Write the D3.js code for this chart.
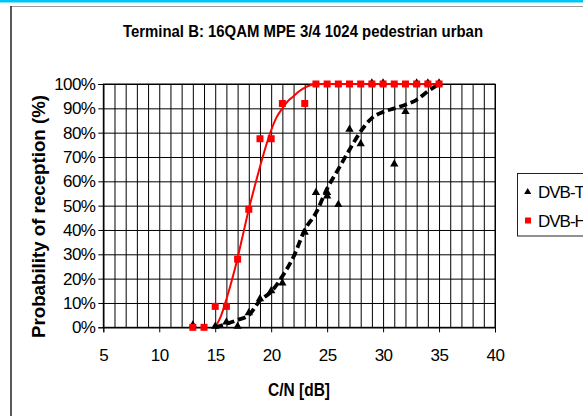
<!DOCTYPE html>
<html>
<head>
<meta charset="utf-8">
<script src="https://cdn.jsdelivr.net/npm/d3@7"></script>
<style>
  html, body { margin: 0; padding: 0; background: #fff; }
  svg { display: block; font-family: "Liberation Sans", Arial, sans-serif; }
</style>
</head>
<body>
<svg id="chart" width="583" height="416"></svg>
<script>
// ---- data ----
const title = "Terminal B: 16QAM MPE 3/4 1024 pedestrian urban";
const xTicks = [5, 10, 15, 20, 25, 30, 35, 40];
const yTicks = [0, 10, 20, 30, 40, 50, 60, 70, 80, 90, 100];
const seriesNames = ["DVB-T", "DVB-H"];

// DVB-T measured points (C/N dB, % reception)
const dvbtX = [13, 15, 16, 17, 18, 19, 20, 21, 23, 24, 25, 25, 26, 27, 28, 29, 30, 31, 32, 33, 34, 35];
const dvbtY = [0.5, 0, 1.7, 0, 5.5, 11.3, 14.6, 17.8, 38.6, 55, 55, 53.5, 50, 81, 75, 100, 100, 66.7, 88.2, 100, 100, 100];

// DVB-H measured points
const dvbhX = [13, 14, 15, 16, 17, 18, 19, 20, 21, 23, 24, 25, 26, 27, 28, 29, 30, 31, 32, 33, 34, 35];
const dvbhY = [0, 0, 8.6, 8.6, 28, 48.5, 77.5, 77.5, 92, 92, 100, 100, 100, 100, 100, 100, 100, 100, 100, 100, 100, 100];

// DVB-T trend (dashed)
const dvbtFitX = [15, 16, 17, 18, 19, 20, 21, 22, 23, 24, 25, 26, 27, 28, 29, 30, 31, 32, 33, 34, 35];
const dvbtFitY = [0, 1.4, 3, 5, 11, 14.6, 21, 29, 40, 47, 57, 65, 73, 80.5, 86, 88.5, 90, 91.5, 93.5, 97, 100];

// DVB-H trend (solid red)
const dvbhFitX = [15, 15.5, 16, 16.5, 17, 17.5, 18, 18.5, 19, 19.5, 20, 20.5, 21, 21.5, 22, 22.5, 23, 23.5, 24, 35];
const dvbhFitY = [0, 4.5, 11.5, 19.5, 28.5, 38.5, 48.5, 57.5, 66, 74, 81, 86.5, 90, 93, 95, 97, 98.5, 99.5, 100, 100];

// ---- drawing ----
const svg = d3.select("#chart");
const W = 583, H = 416;

// top cyan band + frame
svg.append("rect").attr("x", 0).attr("y", 0).attr("width", W).attr("height", 2.5).attr("fill", "#00c4f4");
svg.append("line").attr("x1", 10.5).attr("x2", W).attr("y1", 6.5).attr("y2", 6.5).attr("stroke", "#9a9a9a").attr("stroke-width", 1);
svg.append("line").attr("x1", 11).attr("x2", 11).attr("y1", 6).attr("y2", H).attr("stroke", "#222").attr("stroke-width", 1.5);

const x = d3.scaleLinear().domain([5, 40]).range([103.3, 495]);
const y = d3.scaleLinear().domain([0, 100]).range([327.3, 84]);

// grid
const gridV = svg.append("g").attr("transform", `translate(0,${y(0)})`)
  .call(d3.axisBottom(x).tickValues(d3.range(5, 41, 1)).tickSize(-(y(0) - y(100))).tickFormat(""));
gridV.select(".domain").remove();
gridV.selectAll("line").attr("stroke", "#000").attr("stroke-width", 1);

const gridH = svg.append("g").attr("transform", `translate(${x(5)},0)`)
  .call(d3.axisLeft(y).tickValues(yTicks).tickSize(-(x(40) - x(5))).tickFormat(""));
gridH.select(".domain").remove();
gridH.selectAll("line").attr("stroke", "#000").attr("stroke-width", 1);

// plot border
svg.append("rect").attr("x", x(5)).attr("y", y(100)).attr("width", x(40) - x(5)).attr("height", y(0) - y(100))
  .attr("fill", "none").attr("stroke", "#000").attr("stroke-width", 1);

// axes
const xAxis = svg.append("g").attr("transform", `translate(0,${y(0)})`)
  .call(d3.axisBottom(x).tickValues(xTicks).tickSize(5).tickPadding(17).tickFormat(d3.format("d")));
xAxis.select(".domain").attr("stroke", "#000");
xAxis.selectAll("line").attr("stroke", "#000");
xAxis.selectAll("text").attr("font-size", 17).attr("fill", "#000").attr("font-family", "Liberation Sans, Arial, sans-serif").attr("letter-spacing", "-0.5px");

const yAxis = svg.append("g").attr("transform", `translate(${x(5)},0)`)
  .call(d3.axisLeft(y).tickValues(yTicks).tickSize(5).tickPadding(3).tickFormat(d => d + "%"));
yAxis.select(".domain").attr("stroke", "#000");
yAxis.selectAll("line").attr("stroke", "#000");
yAxis.selectAll("text").attr("font-size", 17).attr("fill", "#000").attr("font-family", "Liberation Sans, Arial, sans-serif").attr("letter-spacing", "-0.6px");

// trend lines
const line = d3.line().x(d => x(d[0])).y(d => y(d[1])).curve(d3.curveMonotoneX);
svg.append("path").datum(dvbtFitX.map((v, i) => [v, dvbtFitY[i]]))
  .attr("d", line).attr("fill", "none").attr("stroke", "#000").attr("stroke-width", 3.8)
  .attr("stroke-dasharray", "8,4");
svg.append("path").datum(dvbhFitX.map((v, i) => [v, dvbhFitY[i]]))
  .attr("d", line).attr("fill", "none").attr("stroke", "#ff0000").attr("stroke-width", 2);

// markers
const tri = d3.symbol().type(d3.symbolTriangle).size(30);
svg.append("g").selectAll("path").data(dvbtX.map((v, i) => [v, dvbtY[i]])).join("path")
  .attr("transform", d => `translate(${x(d[0])},${y(d[1]) - 1})`)
  .attr("d", tri).attr("fill", "#000");

const sq = 7;
svg.append("g").selectAll("rect").data(dvbhX.map((v, i) => [v, dvbhY[i]])).join("rect")
  .attr("x", d => x(d[0]) - sq / 2).attr("y", d => y(d[1]) - sq / 2)
  .attr("width", sq).attr("height", sq).attr("fill", "#ff0000");

// title
svg.append("text").attr("x", 303).attr("y", 36.5).attr("text-anchor", "middle")
  .attr("font-size", 17).attr("font-weight", "bold")
  .attr("textLength", 360).attr("lengthAdjust", "spacingAndGlyphs")
  .text(title);

// axis titles
svg.append("text").attr("x", 299).attr("y", 396).attr("text-anchor", "middle")
  .attr("font-size", 18).attr("font-weight", "bold")
  .attr("textLength", 62).attr("lengthAdjust", "spacingAndGlyphs")
  .text("C/N [dB]");
svg.append("text").attr("transform", "translate(45,216.5) rotate(-90)").attr("text-anchor", "middle")
  .attr("font-size", 18).attr("font-weight", "bold")
  .attr("textLength", 243).attr("lengthAdjust", "spacingAndGlyphs")
  .text("Probability of reception (%)");

// legend
const lg = svg.append("g");
lg.append("rect").attr("x", 517.5).attr("y", 173.5).attr("width", 100).attr("height", 62.5)
  .attr("fill", "#fff").attr("stroke", "#222").attr("stroke-width", 1);
const legY = [192, 220.5];
lg.append("path").attr("transform", `translate(527.7,${legY[0]})`)
  .attr("d", d3.symbol().type(d3.symbolTriangle).size(22)).attr("fill", "#000");
lg.append("rect").attr("x", 525).attr("y", legY[1] - 3).attr("width", 6).attr("height", 6).attr("fill", "#ff0000");
seriesNames.forEach((n, i) => {
  lg.append("text").attr("x", 538).attr("y", legY[i]).attr("dy", "0.36em")
    .attr("font-size", 17).attr("letter-spacing", "-1px").text(n);
});
</script>
</body>
</html>
